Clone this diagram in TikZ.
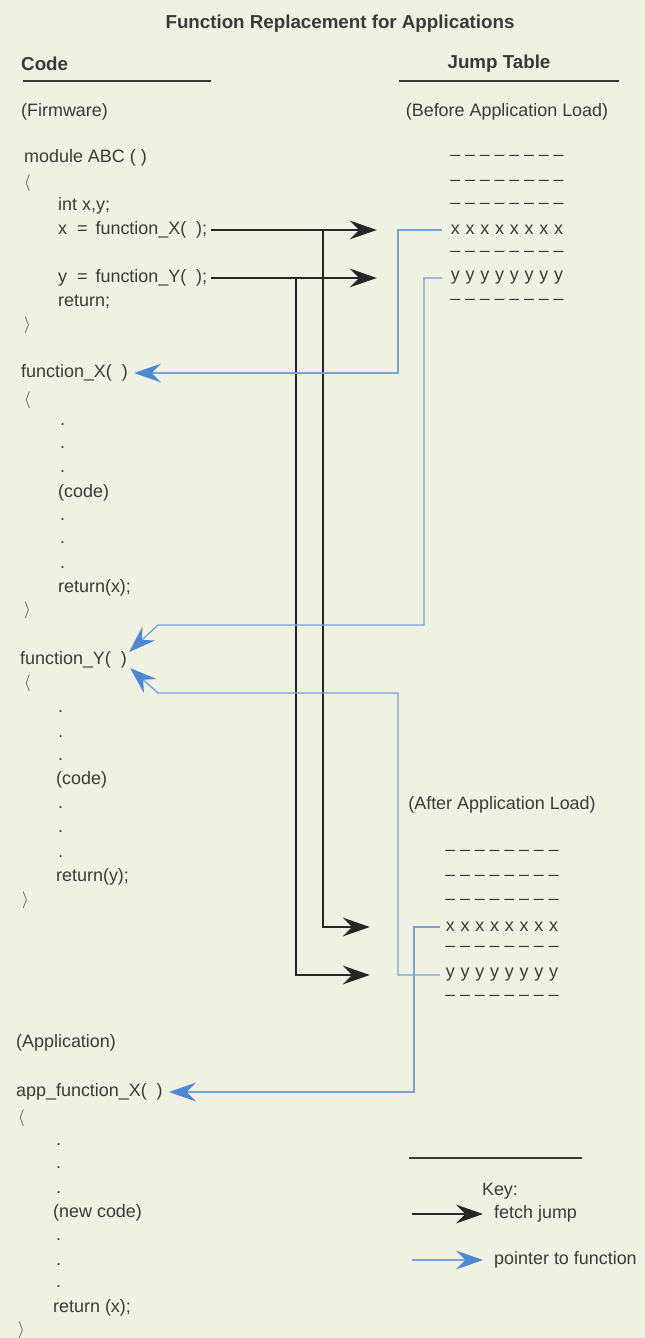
\documentclass[tikz,border=0pt]{standalone}
\usepackage{fontspec}
\setmainfont{Liberation Sans}
\usetikzlibrary{arrows.meta,calc}
\definecolor{bgc}{HTML}{EFF1E3}
\definecolor{txtc}{HTML}{3A3A38}
\definecolor{fetchc}{HTML}{262626}
\definecolor{ptrc}{HTML}{7AA2D8}
\definecolor{ptrh}{HTML}{4E87D2}
\newcommand\jcell[1]{\makebox[0.4425cm]{#1}}
\newcommand\jrow[1]{\jcell{#1}\jcell{#1}\jcell{#1}\jcell{#1}\jcell{#1}\jcell{#1}\jcell{#1}\jcell{#1}}
\newcommand\lbr{\(\langle\)}
\newcommand\rbr{\(\rangle\)}
\begin{document}
\begin{tikzpicture}[x=0.03cm,y=-0.03cm,
 txt/.style={anchor=west,inner sep=0pt,text=txtc,font=\fontsize{15.3}{18}\selectfont},
 hdr/.style={inner sep=0pt,text=txtc,font=\fontsize{16}{18}\selectfont\bfseries},
 ctr/.style={inner sep=0pt,text=txtc,font=\fontsize{15.3}{18}\selectfont},
 jrowst/.style={inner sep=0pt,text=txtc,font=\fontsize{15.3}{18}\selectfont},
 rulest/.style={draw=txtc,line width=1.3pt},
 fetch/.style={draw=fetchc,line width=1.5pt,-{Stealth[length=23pt,width=16pt,inset=8pt]}},
 ptr/.style={draw=ptrc,line width=1.2pt,-{Stealth[length=23pt,width=16pt,inset=8pt,color=ptrh]}},
 ]
\fill[bgc] (0,0) rectangle (645,1338);
\useasboundingbox (0,0) rectangle (645,1338);

% headings
\node[hdr] (title) at (340,24) {Function Replacement for Applications};
\node[hdr,anchor=west] (codeh) at (21,64) {Code};
\node[hdr] (jumph) at (499,64) {Jump Table};
\draw[rulest] (23,81) -- (211,81);
\draw[rulest] (399,81) -- (619,81);
\node[txt] (fw) at (21,112) {(Firmware)};
\node[ctr] (before) at (507,112) {(Before Application Load)};

% firmware code
\node[txt] (modabc) at (24,158) {module ABC ( )};
\node[txt] (ob1) at (24,183) {\lbr};
\node[txt] (int) at (58,206) {int x,y;};
\node[txt] (cx) at (58,230) {x \ =\ \,function\_X(\ \ );};
\node[txt] (cy) at (58,278) {y \ =\ \,function\_Y(\ \ );};
\node[txt] (ret) at (58,302) {return;};
\node[txt] (cb1) at (24,325) {\rbr};
\node[txt] (fx) at (21,373) {function\_X(\ \ )};
\node[txt] (ob2) at (24,400) {\lbr};
\node[txt] (code1) at (58,493) {(code)};
\node[txt] (retx) at (58,588) {return(x);};
\node[txt] (cb2) at (24,610) {\rbr};
\node[txt] (fy) at (20,660) {function\_Y(\ \ )};
\node[txt] (ob3) at (24,683) {\lbr};
\node[txt] (code2) at (56,780) {(code)};
\node[txt] (rety) at (56,877) {return(y);};
\node[txt] (cb3) at (22,900) {\rbr};

% application code
\node[txt] (app) at (16,1043) {(Application)};
\node[txt] (afx) at (16,1092) {app\_function\_X(\ \ )};
\node[txt] (ob4) at (18,1118) {\lbr};
\node[txt] (nc) at (53,1213) {(new code)};
\node[txt] (retx2) at (53,1308) {return (x);};
\node[txt] (cb4) at (18,1330) {\rbr};

% dots
\foreach \n/\x/\y in {da1/60/425,da2/60/448,da3/60/472,da4/60/520,da5/60/543,da6/60/568,
  db1/58/712,db2/58/737,db3/58/760,db4/58/808,db5/58/832,db6/58/857,
  dc1/56/1145,dc2/56/1168,dc3/56/1193,dc4/56/1240,dc5/56/1265,dc6/56/1287}
  \node[txt] (\n) at (\x,\y) {.};

% jump table before
\node[jrowst] (b1) at (507,158) {\jrow{--}};
\node[jrowst] (b2) at (507,183) {\jrow{--}};
\node[jrowst] (b3) at (507,206) {\jrow{--}};
\node[jrowst] (bx) at (507,230) {\jrow{x}};
\node[jrowst] (b5) at (507,254) {\jrow{--}};
\node[jrowst] (by) at (507,278) {\jrow{y}};
\node[jrowst] (b7) at (507,302) {\jrow{--}};

% jump table after
\node[ctr] (after) at (502,805) {(After Application Load)};
\node[jrowst] (a1) at (502,853) {\jrow{--}};
\node[jrowst] (a2) at (502,878) {\jrow{--}};
\node[jrowst] (a3) at (502,902) {\jrow{--}};
\node[jrowst] (ax) at (502,927) {\jrow{x}};
\node[jrowst] (a5) at (502,949) {\jrow{--}};
\node[jrowst] (ay) at (502,975) {\jrow{y}};
\node[jrowst] (a7) at (502,998) {\jrow{--}};

% fetch jumps
\coordinate (vx) at (323,0);
\coordinate (vy) at (296,0);
\draw[fetch] ($(cx.east)+(4,0)$) -- ($(bx.west)+(-71,0)$);
\draw[fetch] ($(cy.east)+(4,0)$) -- ($(by.west)+(-71,0)$);
\draw[fetch] (cx.east -| vx) |- ($(ax.west)+(-73,0)$);
\draw[fetch] (cy.east -| vy) |- ($(ay.west)+(-73,0)$);

% pointers
\coordinate (vp1) at (398,0);
\coordinate (vp2) at (424,0);
\coordinate (vp3) at (398,0);
\coordinate (vp4) at (414,0);
\coordinate (p2a) at (424,625);
\coordinate (p2b) at (158,625);
\coordinate (p3a) at (398,693);
\coordinate (p3b) at (158,693);
\draw[ptr] ($(bx.west)+(-6,0)$) -- (bx.west -| vp1) -- (vp1 |- fx.east) -- ($(fx.east)+(6,0)$);
\draw[ptr] ($(by.west)+(-6,0)$) -- (by.west -| vp2) -- (p2a) -- (p2b) -- ($(fy.east)+(2,-8)$);
\draw[ptr] ($(ay.west)+(-3,0)$) -- (ay.west -| vp3) -- (p3a) -- (p3b) -- ($(fy.east)+(3,8)$);
\draw[ptr] ($(ax.west)+(-3,0)$) -- (ax.west -| vp4) -- (vp4 |- afx.east) -- ($(afx.east)+(6,0)$);

% key
\draw[rulest] (409,1158) -- (582,1158);
\node[ctr] (key) at (500,1191) {Key:};
\node[txt] (fj) at (494,1214) {fetch jump};
\node[txt] (pf) at (494,1260) {pointer to function};
\coordinate (k1) at (412,1214);
\coordinate (k2) at (412,1260);
\draw[fetch] (k1) -- ($(fj.west)+(-11,0)$);
\draw[ptr] (k2) -- ($(pf.west)+(-11,0)$);
\end{tikzpicture}
\end{document}
